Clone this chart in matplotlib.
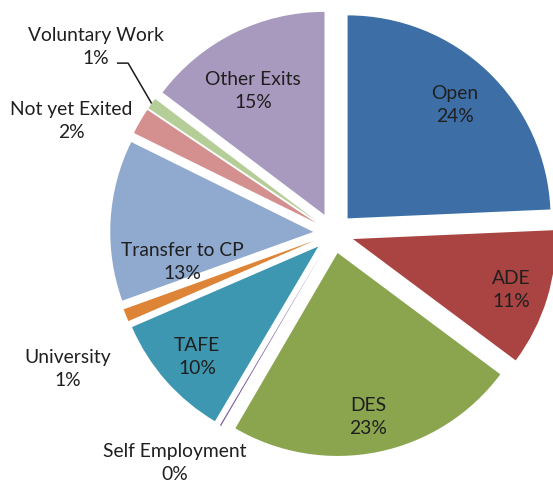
import numpy as np
import matplotlib
matplotlib.use("Agg")
import matplotlib.pyplot as plt

# exit destinations, clockwise from 12 o'clock
categories = ["Open", "ADE", "DES", "Self Employment", "TAFE", "University",
              "Transfer to CP", "Not yet Exited", "Voluntary Work", "Other Exits"]
shares = [24.3, 10.9, 23.2, 0.1, 10.0, 1.0, 12.8, 2.1, 0.9, 14.7]
colors = ["#3D6FA6", "#A94442", "#8BA54F", "#7C5E9C", "#3E97B0",
          "#DE8437", "#8FA9CF", "#D3908E", "#B5CD96", "#A899BF"]

# label placement: (distance from centre, angle shift from wedge middle)
label_pos = [(0.87, 0.3), (0.92, -0.6), (0.92, -0.9), (1.376, -4.2), (0.91, 0.9),
             (1.47, 5.5), (0.76, 14.2), (1.403, 6.9), (1.486, -2.6), (0.805, 3.1)]
EXPLODE = 0.1

plt.rcParams["font.family"] = ["Lato", "DejaVu Sans"]

fig = plt.figure(figsize=(5.53, 4.86), dpi=100)
ax = fig.add_axes([0, 0, 1, 1])

wedges, _ = ax.pie(shares, colors=colors, startangle=90, counterclock=False,
                   explode=[EXPLODE] * len(shares), radius=1.0,
                   wedgeprops=dict(linewidth=0))

for w, name, v, (r, dth) in zip(wedges, categories, shares, label_pos):
    mid = np.deg2rad((w.theta1 + w.theta2) / 2 + dth)
    x, y = r * np.cos(mid), r * np.sin(mid)
    ax.text(x, y, f"{name}\n{v:.0f}%", ha="center", va="center",
            fontsize=13.9, color="#1f1f1f", linespacing=1.42)

# leader line for Voluntary Work
i = categories.index("Voluntary Work")
w = wedges[i]
mid = np.deg2rad((w.theta1 + w.theta2) / 2)
cx, cy = w.center
end = (cx + 1.0 * np.cos(mid), cy + 1.0 * np.sin(mid))
r, dth = label_pos[i]
lm = np.deg2rad((w.theta1 + w.theta2) / 2 + dth)
lx, ly = r * np.cos(lm), r * np.sin(lm)
ax.plot([lx + 0.103, lx + 0.158, end[0]], [ly - 0.079, ly - 0.079, end[1]],
        color="#1a1a1a", linewidth=1.1, solid_capstyle="butt")

ax.set_xlim(-1.643, 1.081)
ax.set_ylim(-1.246, 1.148)
ax.set_aspect("equal")
ax.axis("off")

fig.savefig("out.png", dpi=100)
